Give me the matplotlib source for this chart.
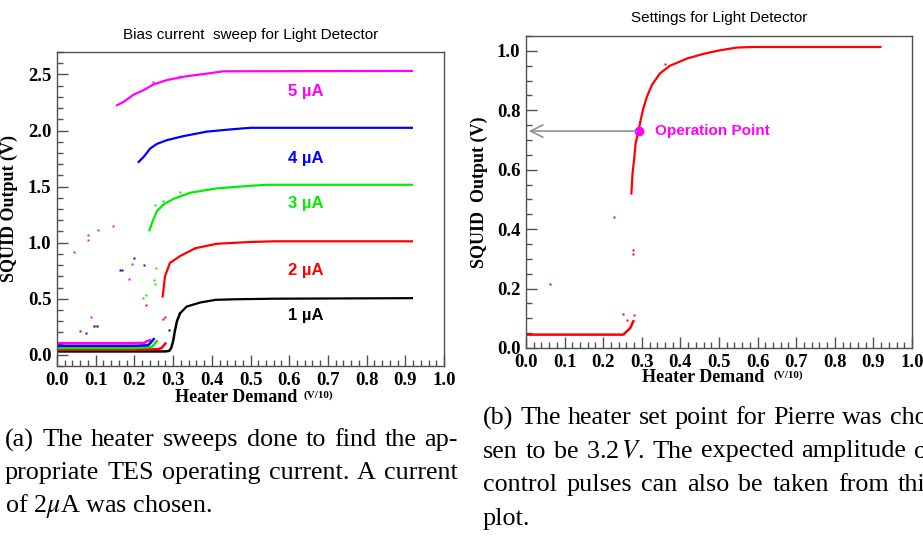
import matplotlib
matplotlib.use("Agg")
import matplotlib.pyplot as plt
from matplotlib.ticker import MultipleLocator, FormatStrFormatter

plt.rcParams['mathtext.fontset'] = 'stix'

# ---- data ----
# left panel: bias current sweep (baseline branch + upper branch per current)
base_x = {
    '1': [0.0, 0.10, 0.20, 0.28, 0.29, 0.295, 0.300, 0.305, 0.310, 0.318],
    '2': [0.0, 0.10, 0.20, 0.26, 0.27, 0.28],
    '3': [0.0, 0.10, 0.20, 0.245, 0.25, 0.258],
    '4': [0.0, 0.10, 0.20, 0.235, 0.24, 0.25],
    '5': [0.0, 0.10, 0.20, 0.225, 0.232, 0.24],
}
base_y = {
    '1': [0.03, 0.03, 0.03, 0.03, 0.035, 0.06, 0.12, 0.22, 0.30, 0.37],
    '2': [0.045, 0.045, 0.045, 0.05, 0.06, 0.10],
    '3': [0.06, 0.06, 0.06, 0.07, 0.09, 0.12],
    '4': [0.08, 0.08, 0.08, 0.085, 0.10, 0.14],
    '5': [0.104, 0.104, 0.104, 0.106, 0.12, 0.13],
}
up_x = {
    '1': [0.318, 0.335, 0.37, 0.41, 0.46, 0.56, 0.917],
    '2': [0.273, 0.279, 0.292, 0.318, 0.357, 0.413, 0.50, 0.56, 0.917],
    '3': [0.239, 0.248, 0.258, 0.275, 0.301, 0.344, 0.413, 0.50, 0.542, 0.917],
    '4': [0.211, 0.224, 0.241, 0.258, 0.284, 0.327, 0.387, 0.456, 0.50, 0.917],
    '5': [0.155, 0.172, 0.198, 0.224, 0.249, 0.284, 0.335, 0.387, 0.43, 0.917],
}
up_y = {
    '1': [0.37, 0.43, 0.466, 0.49, 0.495, 0.50, 0.505],
    '2': [0.52, 0.70, 0.82, 0.88, 0.95, 0.99, 1.006, 1.012, 1.012],
    '3': [1.11, 1.20, 1.28, 1.34, 1.39, 1.445, 1.484, 1.507, 1.516, 1.516],
    '4': [1.72, 1.765, 1.84, 1.88, 1.914, 1.95, 1.99, 2.012, 2.024, 2.024],
    '5': [2.225, 2.255, 2.32, 2.36, 2.41, 2.45, 2.484, 2.507, 2.528, 2.531],
}
out_x = {
    '1': [0.095, 0.103, 0.29],
    '2': [0.06, 0.23, 0.275, 0.278, 0.357],
    '3': [0.255, 0.25, 0.252, 0.23, 0.222, 0.254, 0.273, 0.318],
    '4': [0.076, 0.163, 0.168, 0.198, 0.225],
    '5': [0.043, 0.079, 0.079, 0.106, 0.144, 0.195, 0.185, 0.088, 0.248, 0.318],
}
out_y = {
    '1': [0.26, 0.26, 0.22],
    '2': [0.21, 0.44, 0.32, 0.335, 0.95],
    '3': [0.77, 0.67, 0.63, 0.53, 0.51, 1.34, 1.37, 1.45],
    '4': [0.19, 0.76, 0.76, 0.86, 0.80],
    '5': [0.92, 1.02, 1.07, 1.11, 1.15, 0.81, 0.68, 0.34, 2.43, 2.49],
}
currents = ['1', '2', '3', '4', '5']
colors = {'1': 'black', '2': '#ff0000', '3': '#00ee00', '4': '#0000ff', '5': '#ff00ff'}
label_y = {'1': 0.35, '2': 0.75, '3': 1.35, '4': 1.75, '5': 2.35}

# right panel: chosen setting (2 uA)
set_base_x = [0.0, 0.10, 0.20, 0.252, 0.261, 0.27, 0.278]
set_base_y = [0.045, 0.045, 0.045, 0.045, 0.056, 0.067, 0.09]
set_up_x = [0.273, 0.276, 0.28, 0.284, 0.291, 0.297, 0.304, 0.313, 0.326, 0.347,
            0.373, 0.417, 0.46, 0.503, 0.546, 0.589, 0.918]
set_up_y = [0.52, 0.588, 0.633, 0.689, 0.728, 0.767, 0.806, 0.845, 0.885, 0.924,
            0.95, 0.974, 0.99, 1.002, 1.011, 1.013, 1.013]
set_out_x = [0.062, 0.228, 0.276, 0.278, 0.251, 0.261, 0.281, 0.359]
set_out_y = [0.215, 0.442, 0.316, 0.33, 0.114, 0.095, 0.112, 0.957]
op_x, op_y = 0.294, 0.73

cap_a = ['(a) The heater sweeps done to find the ap-',
         'propriate TES operating current.  A current',
         r'of 2$\mu$A was chosen.']
cap_b = ['(b) The heater set point for Pierre was cho-',
         r'sen to be 3.2$\,V$. The expected amplitude of',
         'control pulses can also be taken from this',
         'plot.']

serif_b = dict(family='Liberation Serif', weight='bold')
sans = 'Liberation Sans'
frame_col = '#505050'


def style_axes(ax, ymaj, ymin):
    ax.xaxis.set_major_locator(MultipleLocator(0.1))
    ax.xaxis.set_minor_locator(MultipleLocator(0.02))
    ax.yaxis.set_major_locator(MultipleLocator(ymaj))
    ax.yaxis.set_minor_locator(MultipleLocator(ymin))
    ax.xaxis.set_major_formatter(FormatStrFormatter('%.1f'))
    ax.yaxis.set_major_formatter(FormatStrFormatter('%.1f'))
    ax.tick_params(which='both', direction='in', top=False, right=False,
                   color=frame_col, width=1)
    ax.tick_params(which='major', length=8, labelsize=13.5, pad=4)
    ax.tick_params(which='minor', length=4)
    for lab in ax.get_xticklabels() + ax.get_yticklabels():
        lab.set_fontfamily('Liberation Serif')
        lab.set_fontweight('bold')
    for sp in ax.spines.values():
        sp.set_color(frame_col)
        sp.set_linewidth(1)


def justified(fig, lines, x0, width, y0, dy, size):
    # place caption lines word by word so each full line fills the column
    rend = fig.canvas.get_renderer()
    W = fig.bbox.width
    for i, line in enumerate(lines):
        y = 1 - (y0 + dy * i) / fig.bbox.height
        words = line.split()
        if i == len(lines) - 1 or len(words) < 2:
            fig.text(x0 / W, y, line, family='Liberation Serif', fontsize=size,
                     va='center', ha='left')
            continue
        arts = [fig.text(0, y, w, family='Liberation Serif', fontsize=size,
                         va='center', ha='left') for w in words]
        widths = [a.get_window_extent(rend).width for a in arts]
        gap = (width - sum(widths)) / (len(words) - 1)
        x = x0
        for a, w in zip(arts, widths):
            a.set_x(x / W)
            x += w + gap


fig = plt.figure(figsize=(9.23, 5.41), dpi=100)

# ---- left panel ----
ax1 = fig.add_axes([57/923, 1-366/541, 387/923, 314/541])
for c in currents:
    col = colors[c]
    ax1.plot(base_x[c], base_y[c], color=col, lw=1.8)
    ax1.plot(up_x[c], up_y[c], color=col, lw=1.6)
    ax1.plot(out_x[c], out_y[c], ls='none', marker='s', ms=1.8, color=col, mec='none')
    ax1.text(0.598, label_y[c], c + u' \u00b5A', color=col, fontsize=12,
             fontweight='bold', family=sans, va='center', ha='left')
ax1.set_xlim(0, 1.0)
ax1.set_ylim(-0.1, 2.7)
style_axes(ax1, 0.5, 0.1)
ax1.set_title('Bias current  sweep for Light Detector', family=sans, fontsize=11, pad=9)
ax1.set_ylabel('SQUID Output (V)', fontsize=13, **serif_b)
ax1.yaxis.set_label_coords(-0.1, 0.5)
ax1.text(0.4625, -0.099, 'Heater Demand', transform=ax1.transAxes, fontsize=13,
         ha='center', va='center', **serif_b)
ax1.text(0.637, -0.092, '(V/10)', transform=ax1.transAxes, fontsize=8,
         ha='left', va='center', **serif_b)

# ---- right panel ----
ax2 = fig.add_axes([526/923, 1-348/541, 386/923, 312/541])
ax2.plot(set_base_x, set_base_y, color='#ff0000', lw=1.8)
ax2.plot(set_up_x, set_up_y, color='#ff0000', lw=1.6)
ax2.plot(set_out_x, set_out_y, ls='none', marker='s', ms=1.8, color='#ff0000', mec='none')
ax2.annotate('', xy=(0.0, op_y), xytext=(op_x, op_y),
             arrowprops=dict(arrowstyle='->', color='#909090', lw=1.2, mutation_scale=22))
ax2.plot([op_x], [op_y], 'o', color='#ff00ff', ms=6)
ax2.text(0.335, op_y, 'Operation Point', color='#ff00ff', fontsize=11,
         fontweight='bold', family=sans, va='center', ha='left')
ax2.set_xlim(0, 1.0)
ax2.set_ylim(0, 1.05)
style_axes(ax2, 0.2, 0.05)
ax2.set_title('Settings for Light Detector', family=sans, fontsize=11, pad=10)
ax2.set_ylabel('SQUID  Output (V)', fontsize=13, **serif_b)
ax2.yaxis.set_label_coords(-0.098, 0.5)
ax2.text(0.46, -0.096, 'Heater Demand', transform=ax2.transAxes, fontsize=13,
         ha='center', va='center', **serif_b)
ax2.text(0.642, -0.087, '(V/10)', transform=ax2.transAxes, fontsize=8,
         ha='left', va='center', **serif_b)

# ---- captions (right one runs off the page edge as in the source) ----
justified(fig, cap_a, 5, 453, 440, 33, 18.8)
justified(fig, cap_b, 483, 453, 418, 33.5, 18.8)

fig.savefig('out.png', dpi=100)
